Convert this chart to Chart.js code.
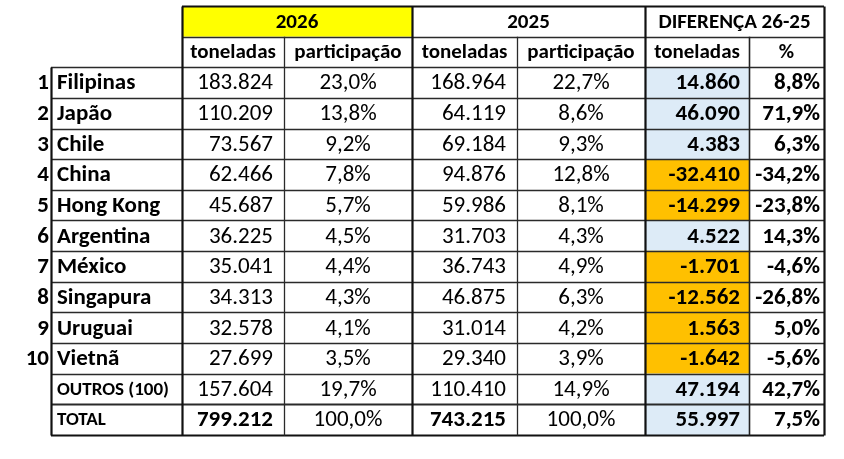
<!DOCTYPE html>
<html>
<head>
<meta charset="utf-8">
<script src="https://cdn.jsdelivr.net/npm/chart.js@4.4.1/dist/chart.umd.min.js"></script>
<style>
  html, body { margin: 0; padding: 0; background: #fff; }
  #wrap { width: 844px; height: 459px; }
</style>
</head>
<body>
<div id="wrap"><canvas id="tabela" width="844" height="459"></canvas></div>
<script>
// dados da tabela
var paises = ["Filipinas", "Japão", "Chile", "China", "Hong Kong", "Argentina", "México", "Singapura", "Uruguai", "Vietnã", "OUTROS (100)", "TOTAL"];
var ton2026 = [183824, 110209, 73567, 62466, 45687, 36225, 35041, 34313, 32578, 27699, 157604, 799212];
var part2026 = [23.0, 13.8, 9.2, 7.8, 5.7, 4.5, 4.4, 4.3, 4.1, 3.5, 19.7, 100.0];
var ton2025 = [168964, 64119, 69184, 94876, 59986, 31703, 36743, 46875, 31014, 29340, 110410, 743215];
var part2025 = [22.7, 8.6, 9.3, 12.8, 8.1, 4.3, 4.9, 6.3, 4.2, 3.9, 14.9, 100.0];
var difTon = [14860, 46090, 4383, -32410, -14299, 4522, -1701, -12562, 1563, -1642, 47194, 55997];
var difPct = [8.8, 71.9, 6.3, -34.2, -23.8, 14.3, -4.6, -26.8, 5.0, -5.6, 42.7, 7.5];
var anos = ["2026", "2025", "DIFERENÇA 26-25"];
var subtitulos = ["toneladas", "participação", "toneladas", "participação", "toneladas", "%"];

// layout (bordas das colunas) e estilos
var COL = [51, 182, 284, 412, 517, 645, 749, 824];
var laranja = [3, 4, 6, 7, 8, 9];   // linhas destacadas em laranja
var FONTE = "Carlito, Lato, sans-serif";

function fmtNum(v) {
  var s = Math.abs(v).toString().replace(/\B(?=(\d{3})+(?!\d))/g, ".");
  return (v < 0 ? "-" : "") + s;
}
function fmtPct(v) {
  return v.toFixed(1).replace(".", ",") + "%";
}

var linhas = ["h1", "h2"].concat(paises);

var corCelula = linhas.map(function (l, i) {
  if (i < 2) return "rgba(0,0,0,0)";
  return laranja.indexOf(i - 2) >= 0 ? "#FFC000" : "#DDEBF7";
});

var tabelaPlugin = {
  id: "tabela",
  beforeDatasetsDraw: function (chart) {
    var ctx = chart.ctx, x = chart.scales.x, y = chart.scales.y;
    var h = (y.bottom - y.top) / linhas.length;
    var top0 = y.getPixelForValue(0) - h / 2;
    ctx.save();
    ctx.fillStyle = "#FFFF00";
    ctx.fillRect(x.getPixelForValue(COL[1]), top0, x.getPixelForValue(COL[3]) - x.getPixelForValue(COL[1]), h);
    ctx.restore();
  },
  afterDatasetsDraw: function (chart) {
    var ctx = chart.ctx, x = chart.scales.x, y = chart.scales.y;
    var h = (y.bottom - y.top) / linhas.length;
    function topo(i) { return y.getPixelForValue(i) - h / 2; }
    function px(c) { return x.getPixelForValue(COL[c]); }
    var n = linhas.length;
    ctx.save();

    function linha(x0, y0, x1, y1, w, cor) {
      ctx.beginPath();
      ctx.lineWidth = w;
      ctx.strokeStyle = cor;
      ctx.moveTo(x0, y0);
      ctx.lineTo(x1, y1);
      ctx.stroke();
    }

    // linhas horizontais
    for (var i = 1; i < n; i++) {
      var x0 = i >= 2 ? px(0) : px(1);
      var w = (i === n - 1) ? 2 : 1.4;
      linha(x0, Math.round(topo(i)) + 0.5, px(7), Math.round(topo(i)) + 0.5, w, "#2a2a2a");
    }
    var yTop = Math.round(topo(0)) + 0.5, yBot = Math.round(topo(n - 1) + h) + 0.5;
    var yDados = Math.round(topo(2)) + 0.5;
    linha(px(1), yTop, px(7), yTop, 2, "#111");
    linha(px(0), yBot, px(7), yBot, 2.2, "#111");

    // linhas verticais
    linha(px(0) + 0.5, yDados, px(0) + 0.5, yBot, 2.2, "#111");
    [1, 3, 5, 7].forEach(function (c) {
      linha(px(c) + 0.5, yTop, px(c) + 0.5, yBot, 2.2, "#111");
    });
    [2, 4].forEach(function (c) {
      linha(px(c) + 0.5, topo(1), px(c) + 0.5, yBot, 1.3, "#2a2a2a");
    });
    linha(px(6) + 0.5, topo(1), px(6) + 0.5, yBot, 1.6, "#222");

    ctx.fillStyle = "#000";
    ctx.textBaseline = "middle";
    function texto(t, xx, yy, alin, peso, tam) {
      ctx.font = (peso || "normal") + " " + (tam || 23) + "px " + FONTE;
      ctx.textAlign = alin;
      ctx.fillText(t, xx, yy);
    }

    // cabeçalhos
    var cy0 = y.getPixelForValue(0) + 1;
    texto(anos[0], (px(1) + px(3)) / 2, cy0, "center", "bold", 21);
    texto(anos[1], (px(3) + px(5)) / 2, cy0, "center", "bold", 21);
    texto(anos[2], (px(5) + px(7)) / 2, cy0, "center", "bold", 21);
    var cy1 = y.getPixelForValue(1) + 1;
    subtitulos.forEach(function (s, k) {
      texto(s, (px(k + 1) + px(k + 2)) / 2, cy1, "center", "bold", 21);
    });

    // dados
    paises.forEach(function (p, k) {
      var cy = y.getPixelForValue(k + 2) + 1;
      var total = p === "TOTAL";
      if (k < 10) {
        texto(String(k + 1), px(0) - 2, cy, "right", "bold");
        texto(p, px(0) + 6, cy, "left", "bold");
      } else {
        texto(p, px(0) + 6, cy, "left", "bold", 19);
      }
      texto(fmtNum(ton2026[k]), px(2) - 11, cy, "right", total ? "bold" : "normal");
      texto(fmtPct(part2026[k]), (px(2) + px(3)) / 2, cy, "center");
      texto(fmtNum(ton2025[k]), px(4) - 11, cy, "right", total ? "bold" : "normal");
      texto(fmtPct(part2025[k]), (px(4) + px(5)) / 2, cy, "center");
      texto(fmtNum(difTon[k]), px(6) - 9, cy, "right", "bold");
      texto(fmtPct(difPct[k]), px(7) - 4, cy, "right", "bold");
    });
    ctx.restore();
  }
};

new Chart(document.getElementById("tabela"), {
  type: "bar",
  data: {
    labels: linhas,
    datasets: [{
      label: "diferença",
      data: linhas.map(function (l, i) { return i < 2 ? null : [COL[5], COL[6]]; }),
      backgroundColor: corCelula,
      borderWidth: 0,
      barPercentage: 1,
      categoryPercentage: 1
    }]
  },
  options: {
    indexAxis: "y",
    responsive: false,
    devicePixelRatio: 1,
    animation: false,
    layout: { padding: { top: 6, bottom: 24, left: 0, right: 0 } },
    plugins: { legend: { display: false }, tooltip: { enabled: false } },
    scales: {
      x: { type: "linear", min: 0, max: 844, display: false },
      y: { type: "category", display: false, offset: true, grid: { display: false } }
    }
  },
  plugins: [tabelaPlugin]
});
</script>
</body>
</html>
